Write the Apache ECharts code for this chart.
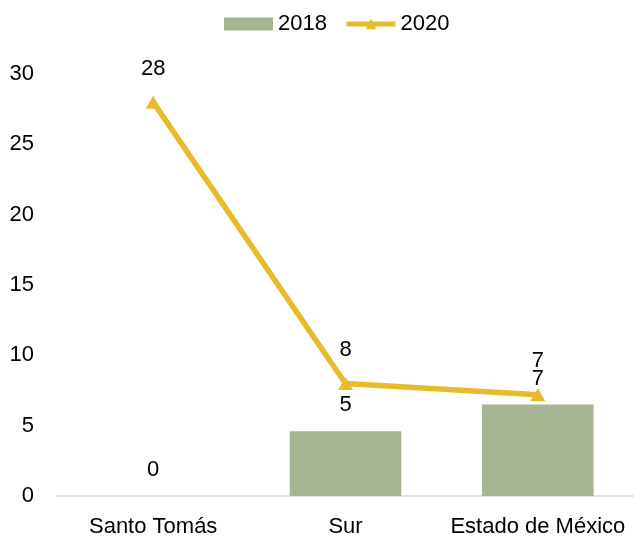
<!DOCTYPE html>
<html>
<head>
<meta charset="utf-8">
<script src="https://cdn.jsdelivr.net/npm/echarts@6/dist/echarts.min.js"></script>
<style>
html, body { margin: 0; padding: 0; background: #fff; }
#main { width: 634px; height: 542px; }
</style>
</head>
<body>
<div id="main"></div>
<script>
var categories = ['Santo Tomás', 'Sur', 'Estado de México'];
var values2018 = [0, 4.6, 6.5];
var values2020 = [28, 8, 7.2];
var yTicks = [0, 5, 10, 15, 20, 25, 30];

var font = 'Liberation Sans, Arial, sans-serif';
var chart = echarts.init(document.getElementById('main'));

var option = {
    animation: false,
    textStyle: { fontFamily: font },
    legend: {
        top: 8,
        left: 219,
        itemWidth: 49,
        itemHeight: 13,
        itemGap: 17,
        textStyle: { fontFamily: font, fontSize: 22, color: '#000' },
        data: [
            { name: '2018', icon: 'rect' },
            { name: '2020', lineStyle: { width: 5 } }
        ]
    },
    grid: { left: 57, right: -7, top: 74, bottom: 46 },
    xAxis: {
        type: 'category',
        data: categories,
        axisLine: { lineStyle: { color: '#d9d9d9', width: 1.5 } },
        axisTick: { show: false },
        axisLabel: { interval: 0, fontFamily: font, fontSize: 22, color: '#000', margin: 20 }
    },
    yAxis: {
        type: 'value',
        min: yTicks[0],
        max: yTicks[yTicks.length - 1],
        interval: 5,
        axisLine: { show: false },
        axisTick: { show: false },
        splitLine: { show: false },
        axisLabel: { fontFamily: font, fontSize: 22, color: '#000', margin: 23 }
    },
    series: [
        {
            name: '2018',
            type: 'bar',
            data: values2018,
            barWidth: '58%',
            itemStyle: { color: '#a5b591' },
            label: {
                show: true,
                position: 'top',
                distance: 15,
                fontFamily: font,
                fontSize: 22,
                color: '#000',
                formatter: function (p) { return Math.round(p.value); }
            }
        },
        {
            name: '2020',
            type: 'line',
            data: values2020,
            symbol: 'triangle',
            symbolSize: [15, 13],
            lineStyle: { color: '#e8bb2a', width: 5.5 },
            itemStyle: { color: '#e8bb2a' },
            label: {
                show: true,
                position: 'top',
                distance: 16,
                fontFamily: font,
                fontSize: 22,
                color: '#000',
                formatter: function (p) { return Math.round(p.value); }
            }
        }
    ]
};
chart.setOption(option);
</script>
</body>
</html>
